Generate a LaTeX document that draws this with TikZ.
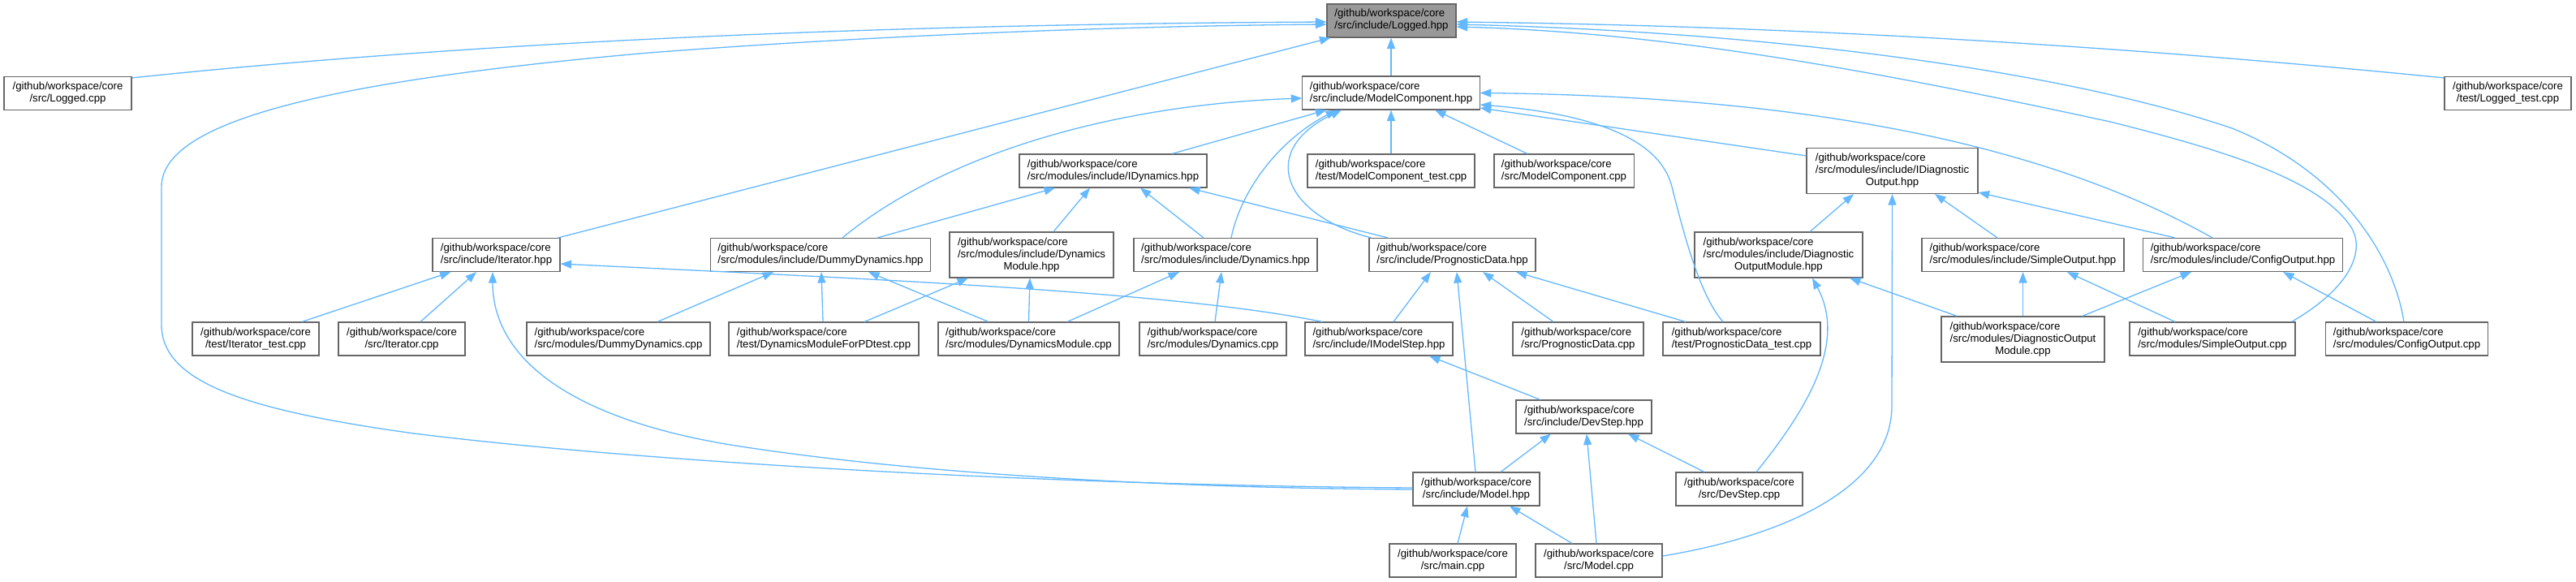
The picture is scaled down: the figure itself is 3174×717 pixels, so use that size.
\documentclass[tikz,border=0pt]{standalone}
\usepackage{fontspec}
\setmainfont{Liberation Sans}
\usetikzlibrary{arrows.meta}
\definecolor{edgec}{HTML}{63B8FF}
\definecolor{boxc}{HTML}{666666}
\definecolor{hlc}{HTML}{999999}
\newcommand\twol[2]{\begin{tabular}{@{}l@{}}#1\\\multicolumn{1}{@{}c@{}}{#2}\end{tabular}}
\newcommand\threel[3]{\begin{tabular}{@{}l@{}}#1\\#2\\\multicolumn{1}{@{}c@{}}{#3}\end{tabular}}
\newcommand\gw{/github/workspace/core}
\begin{document}
\begin{tikzpicture}[x=1pt,y=-1pt,
  box/.style={draw=boxc,fill=white,line width=1.1pt,inner xsep=9pt,inner ysep=3pt,
    minimum height=41pt,font=\fontsize{13.2pt}{15pt}\selectfont,text=black},
  tall/.style={minimum height=56pt},
  dep/.style={draw=edgec,line width=1.3pt,-{Triangle[length=13.5pt,width=10pt]}}]
\useasboundingbox[fill=white] (0,0) rectangle (3174,717);
% nodes
\node[box,fill=hlc,minimum width=159pt] (logh) at (1714.5,25.5) {\twol{\gw}{/src/include/Logged.hpp}};
\node[box,minimum width=157pt] (logcpp) at (83.5,115) {\twol{\gw}{/src/Logged.cpp}};
\node[box,minimum width=218pt] (mch) at (1714,114.5) {\twol{\gw}{/src/include/ModelComponent.hpp}};
\node[box,minimum width=156pt] (logtest) at (3090,115) {\twol{\gw}{/test/Logged\_test.cpp}};
\node[box,minimum width=231pt] (idyn) at (1371.5,210.5) {\twol{\gw}{/src/modules/include/IDynamics.hpp}};
\node[box,minimum width=206pt] (mctest) at (1714,210.5) {\twol{\gw}{/test/ModelComponent\_test.cpp}};
\node[box,minimum width=172pt] (mccpp) at (1927,210.5) {\twol{\gw}{/src/ModelComponent.cpp}};
\node[box,tall,minimum width=211pt] (idiag) at (2331.5,210.5) {\threel{\gw}{/src/modules/include/IDiagnostic}{Output.hpp}};
\node[box,minimum width=157pt] (iterh) at (611.5,314) {\twol{\gw}{/src/include/Iterator.hpp}};
\node[box,minimum width=270pt] (dummyh) at (1011,314) {\twol{\gw}{/src/modules/include/DummyDynamics.hpp}};
\node[box,tall,minimum width=202pt] (dynmodh) at (1271,314) {\threel{\gw}{/src/modules/include/Dynamics}{Module.hpp}};
\node[box,minimum width=226pt] (dynh) at (1510,314) {\twol{\gw}{/src/modules/include/Dynamics.hpp}};
\node[box,minimum width=205pt] (pdh) at (1789.5,314) {\twol{\gw}{/src/include/PrognosticData.hpp}};
\node[box,tall,minimum width=207pt] (domh) at (2191.5,314) {\threel{\gw}{/src/modules/include/Diagnostic}{OutputModule.hpp}};
\node[box,minimum width=249pt] (simpleh) at (2492.5,314) {\twol{\gw}{/src/modules/include/SimpleOutput.hpp}};
\node[box,minimum width=245pt] (configh) at (2763.5,314) {\twol{\gw}{/src/modules/include/ConfigOutput.hpp}};
\node[box,minimum width=156pt] (itertest) at (315,417.5) {\twol{\gw}{/test/Iterator\_test.cpp}};
\node[box,minimum width=156pt] (itercpp) at (495,417.5) {\twol{\gw}{/src/Iterator.cpp}};
\node[box,minimum width=226pt] (dummycpp) at (762,417.5) {\twol{\gw}{/src/modules/DummyDynamics.cpp}};
\node[box,minimum width=234pt] (dynmodtest) at (1015,417.5) {\twol{\gw}{/test/DynamicsModuleForPDtest.cpp}};
\node[box,minimum width=223pt] (dynmodcpp) at (1267.5,417.5) {\twol{\gw}{/src/modules/DynamicsModule.cpp}};
\node[box,minimum width=181pt] (dyncpp) at (1494.5,417.5) {\twol{\gw}{/src/modules/Dynamics.cpp}};
\node[box,minimum width=182pt] (imsh) at (1699,417.5) {\twol{\gw}{/src/include/IModelStep.hpp}};
\node[box,minimum width=161pt] (pdcpp) at (1944.5,417.5) {\twol{\gw}{/src/PrognosticData.cpp}};
\node[box,minimum width=194pt] (pdtest) at (2146,417.5) {\twol{\gw}{/test/PrognosticData\_test.cpp}};
\node[box,tall,minimum width=201pt] (domcpp) at (2492.5,418) {\threel{\gw}{/src/modules/DiagnosticOutput}{Module.cpp}};
\node[box,minimum width=204pt] (simplecpp) at (2726,417.5) {\twol{\gw}{/src/modules/SimpleOutput.cpp}};
\node[box,minimum width=199pt] (configcpp) at (2965.5,417.5) {\twol{\gw}{/src/modules/ConfigOutput.cpp}};
\node[box,minimum width=167pt] (devh) at (1951.5,513.5) {\twol{\gw}{/src/include/DevStep.hpp}};
\node[box,minimum width=156pt] (modelh) at (1819,602.5) {\twol{\gw}{/src/include/Model.hpp}};
\node[box,minimum width=156pt] (devcpp) at (2143,602.5) {\twol{\gw}{/src/DevStep.cpp}};
\node[box,minimum width=156pt] (maincpp) at (1790,690.5) {\twol{\gw}{/src/main.cpp}};
\node[box,minimum width=156pt] (modelcpp) at (1970,690.5) {\twol{\gw}{/src/Model.cpp}};
% edges into Logged.hpp
\draw[dep] ([yshift=-2pt]logcpp.north east) .. controls (600,50) and (1100,30) .. ([yshift=-1.5pt]logh.west);
\draw[dep] ([yshift=1.5pt]modelh.west) .. controls (1300,598) and (800,570) .. (510,534) .. controls (300,505) and (199,470) .. (199,400) -- (199,230) .. controls (199,150) and (400,100) .. (800,65) .. controls (1100,42) and (1400,32) .. ([yshift=-4.5pt]logh.west);
\draw[dep] ([xshift=-3pt]iterh.north east) -- ([xshift=5pt]logh.south west);
\draw[dep] (mch.north) -- (mch.north |- logh.south);
\draw[dep] ([yshift=-2pt]logtest.north west) .. controls (2600,55) and (2200,32) .. ([yshift=-1.5pt]logh.east);
\draw[dep] ([xshift=-3.5pt]configcpp.north) .. controls (2948,310) and (2880,210) .. (2750,158) .. controls (2550,90) and (2200,40) .. ([yshift=-4.5pt]logh.east);
\draw[dep] ([xshift=-5pt]simplecpp.north east) .. controls (2895,355) and (2915,310) .. (2897,280) .. controls (2860,225) and (2760,190) .. (2600,150) .. controls (2300,85) and (2050,40) .. ([yshift=-7.5pt]logh.east);
% Iterator.hpp
\draw[dep] ([xshift=57pt]itertest.north) -- ([xshift=-56pt]iterh.south);
\draw[dep] ([xshift=23pt]itercpp.north) -- ([xshift=-24.5pt]iterh.south);
\draw[dep] ([yshift=-0.5pt]modelh.west) .. controls (1400,601) and (1100,580) .. (900,548) .. controls (700,515) and (607,440) .. ([xshift=-4.5pt]iterh.south);
\draw[dep] ([xshift=22pt]imsh.north west) .. controls (1450,360) and (1100,345) .. ([yshift=-11pt]iterh.east);
% ModelComponent.hpp
\draw[dep] ([xshift=72.5pt]idyn.north) -- ([xshift=30pt]mch.south west);
\draw[dep] ([xshift=27pt]dummyh.north) .. controls (1150,200) and (1350,130) .. ([yshift=-6.5pt]mch.west);
\draw[dep] ([xshift=7pt]dynh.north) .. controls (1530,230) and (1580,170) .. ([xshift=-67pt]mch.south);
\draw[dep] ([xshift=3pt]pdh.north west) .. controls (1580,265) and (1550,185) .. ([xshift=-61pt]mch.south);
\draw[dep] (mctest.north) -- (mch.south);
\draw[dep] ([xshift=-45pt]mccpp.north) -- ([xshift=54pt]mch.south);
\draw[dep] ([yshift=-10pt]idiag.north west) -- ([yshift=-18.5pt]mch.east);
\draw[dep] ([xshift=-37.5pt]configh.north) .. controls (2560,200) and (2300,120) .. (mch.east);
\draw[dep] ([xshift=-23pt]pdtest.north) .. controls (2095,365) and (2075,290) .. (2060,230) .. controls (2045,170) and (1960,140) .. ([yshift=-14.5pt]mch.east);
% IDynamics.hpp
\draw[dep] ([xshift=70pt]dummyh.north) -- ([xshift=-71.5pt]idyn.south);
\draw[dep] ([xshift=27pt]dynmodh.north) -- ([xshift=-28.5pt]idyn.south);
\draw[dep] ([xshift=-27pt]dynh.north) -- ([xshift=33.5pt]idyn.south);
\draw[dep] ([xshift=-79.5pt]pdh.north) -- ([xshift=93.5pt]idyn.south);
% DummyDynamics.hpp
\draw[dep] ([xshift=48pt]dummycpp.north) -- ([xshift=-58pt]dummyh.south);
\draw[dep] ([xshift=-1pt]dynmodtest.north) -- ([xshift=1pt]dummyh.south);
\draw[dep] ([xshift=-49.5pt]dynmodcpp.north) -- ([xshift=59pt]dummyh.south);
% DynamicsModule.hpp
\draw[dep] ([xshift=50pt]dynmodtest.north) -- ([xshift=-78pt]dynmodh.south);
\draw[dep] (dynmodcpp.north) -- ([xshift=-2pt]dynmodh.south);
% Dynamics.hpp
\draw[dep] ([xshift=47.5pt]dynmodcpp.north) -- ([xshift=-57pt]dynh.south);
\draw[dep] ([xshift=2.5pt]dyncpp.north) -- ([xshift=-5pt]dynh.south);
% PrognosticData.hpp
\draw[dep] ([xshift=18pt]imsh.north) -- ([xshift=-26.5pt]pdh.south);
\draw[dep] ([xshift=-1pt]modelh.north) -- ([xshift=5.5pt]pdh.south);
\draw[dep] ([xshift=-30.5pt]pdcpp.north) -- ([xshift=37.5pt]pdh.south);
\draw[dep] ([xshift=-69pt]pdtest.north) -- ([xshift=78.5pt]pdh.south);
% IDiagnosticOutput.hpp
\draw[dep] ([xshift=38.5pt]domh.north) -- ([xshift=-47.5pt]idiag.south);
\draw[dep] ([yshift=5.5pt]modelcpp.east) .. controls (2200,660) and (2331,600) .. (2331,500) -- (idiag.south);
\draw[dep] ([xshift=-31.5pt]simpleh.north) -- ([xshift=52.5pt]idiag.south);
\draw[dep] ([xshift=-83.5pt]configh.north) -- ([yshift=2pt]idiag.south east);
% DiagnosticOutputModule.hpp
\draw[dep] ([xshift=20pt]domcpp.north west) -- ([xshift=87.5pt]domh.south);
\draw[dep] ([xshift=21pt]devcpp.north) .. controls (2230,500) and (2275,420) .. ([xshift=41.5pt]domh.south);
% SimpleOutput.hpp / ConfigOutput.hpp
\draw[dep] (domcpp.north) -- (simpleh.south);
\draw[dep] ([xshift=-28pt]domcpp.north east) -- ([xshift=-63.5pt]configh.south);
\draw[dep] ([xshift=-46pt]simplecpp.north) -- ([xshift=54.5pt]simpleh.south);
\draw[dep] ([xshift=-37.5pt]configcpp.north) -- ([xshift=49.5pt]configh.south);
% IModelStep.hpp
\draw[dep] ([xshift=-53.5pt]devh.north) -- ([xshift=62pt]imsh.south);
% DevStep.hpp
\draw[dep] ([xshift=30pt]modelh.north) -- ([xshift=-40.5pt]devh.south);
\draw[dep] ([xshift=-3pt]modelcpp.north) -- ([xshift=3.5pt]devh.south);
\draw[dep] ([xshift=-43pt]devcpp.north) -- ([xshift=54.5pt]devh.south);
% Model.hpp
\draw[dep] ([xshift=6pt]maincpp.north) -- ([xshift=-11pt]modelh.south);
\draw[dep] ([xshift=-33pt]modelcpp.north) -- ([xshift=41pt]modelh.south);
\end{tikzpicture}
\end{document}
